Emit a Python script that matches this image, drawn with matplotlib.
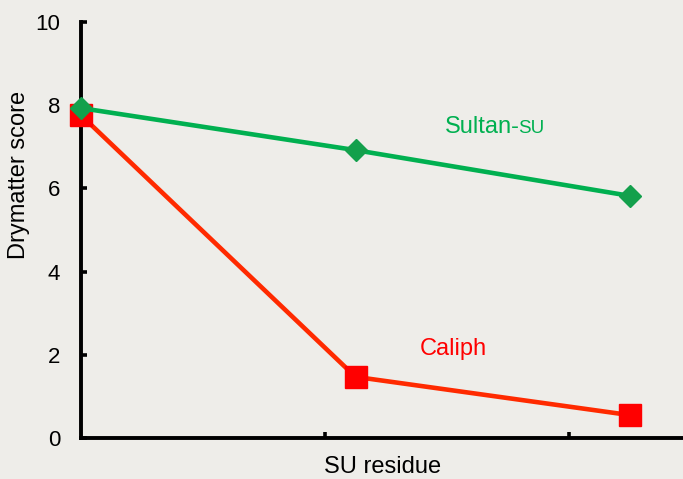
import matplotlib
matplotlib.use("Agg")
import matplotlib.pyplot as plt

# data
x_pos = [0, 1, 2]
sultan = [7.93, 6.92, 5.82]
caliph = [7.76, 1.47, 0.55]
y_ticks = [0, 2, 4, 6, 8, 10]
y_ticklabels = ["0", "2", "4", "6", "8", "10"]
x_ticks = [0.889, 1.778]

W, H = 683, 479
plt.rcParams['font.family'] = ['Liberation Sans', 'DejaVu Sans']
bg = '#eeede9'
fig = plt.figure(figsize=(W / 100, H / 100), dpi=100, facecolor=bg)
ax = fig.add_axes([81 / W, (H - 438) / H, (W - 81) / W, 416 / H])
ax.set_facecolor(bg)

ax.plot(x_pos, sultan, color='#00b050', lw=3.3, marker='D', ms=11.5,
        mfc='#13a04c', mec='#13a04c', clip_on=False, zorder=4)
ax.plot(x_pos, caliph, color='#ff2a00', lw=3.3, marker='s', ms=15.5,
        mfc='#ff0000', mec='#ff0000', clip_on=False, zorder=3)

ax.set_xlim(0, (W - 81) / 274.5)
ax.set_ylim(0, 10)
ax.set_yticks(y_ticks)
ax.set_yticklabels(y_ticklabels)
ax.set_xticks(x_ticks)
ax.set_xticklabels([])
ax.tick_params(axis='both', direction='in', length=4.5, width=2.6, color='black',
               labelsize=16, pad=15)
ax.tick_params(axis='x', pad=4)
for s in ['top', 'right']:
    ax.spines[s].set_visible(False)
for s in ['left', 'bottom']:
    ax.spines[s].set_linewidth(2.8)
    ax.spines[s].set_color('black')

t1 = ax.text((445 - 81) / 274.5, (438 - 133) / 41.6, "Sultan-", color='#00b050',
             fontsize=17, ha='left', va='baseline')
ax.annotate("SU", xy=(1.0, (438 - 133) / 41.6), xycoords=(t1, 'data'),
            xytext=(-1.5, 0), textcoords='offset points',
            color='#00b050', fontsize=13.5, ha='left', va='baseline')
ax.text((420 - 81) / 274.5, (438 - 355) / 41.6, "Caliph", color='#ff0000',
        fontsize=17, ha='left', va='baseline')

fig.text(383 / W, 1 - 467 / H, "SU residue", fontsize=17, ha='center', va='center')
fig.text(19 / W, 1 - 175 / H, "Drymatter score", fontsize=17, rotation=90,
         ha='center', va='center')

fig.savefig("out.png", dpi=100, facecolor=bg)
